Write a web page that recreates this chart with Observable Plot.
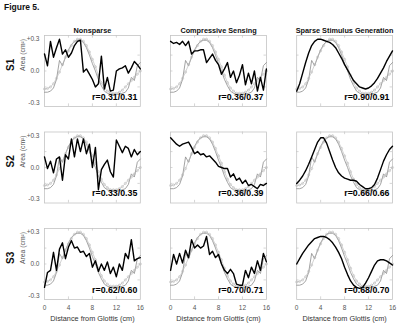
<!DOCTYPE html>
<html><head><meta charset="utf-8">
<script src="https://cdn.jsdelivr.net/npm/d3@7"></script>
<script src="https://cdn.jsdelivr.net/npm/@observablehq/plot@0.6"></script>
<style>
body{margin:0;background:#fff;}
#wrap{position:relative;width:400px;height:328px;font-family:"Liberation Sans",Arial,sans-serif;}
#fig{position:absolute;left:4px;top:2px;font-weight:bold;font-size:8.5px;color:#111;z-index:2;}
</style></head><body>
<div id="wrap"><div id="fig">Figure 5.</div></div>
<script>
const methods = ["Nonsparse", "Compressive Sensing", "Sparse Stimulus Generation"];
const subjects = ["S1", "S2", "S3"];
const xTicks = [0, 4, 8, 12, 16];
const yTicks = [-0.3, 0, 0.3];
const distance = [0,0.5,1,1.5,2,2.5,3,3.5,4,4.5,5,5.5,6,6.5,7,7.5,8,8.5,9,9.5,10,10.5,11,11.5,12,12.5,13,13.5,14,14.5,15,15.5,16];

// ground-truth area functions (gray)
const truthA = [-0.17,-0.165,-0.15,-0.12,-0.07,-0.01,0.06,0.13,0.19,0.24,0.28,0.30,0.30,0.28,0.24,0.18,0.11,0.04,-0.04,-0.11,-0.16,-0.19,-0.21,-0.21,-0.21,-0.20,-0.18,-0.15,-0.12,-0.09,-0.06,-0.03,0.0];
const truthB = [-0.2,-0.2,-0.19,-0.16,-0.08,0.1,0.05,0.13,0.2,0.25,0.28,0.29,0.29,0.27,0.22,0.15,0.07,0.0,-0.08,-0.14,-0.19,-0.21,-0.22,-0.22,-0.22,-0.22,-0.21,-0.2,-0.16,-0.06,-0.09,0.05,0.08];

// reconstructions (black)
const s1Nonsparse = [0.16,0.05,0.28,0.13,0.22,0.30,0.16,0.20,0.13,0.17,0.24,0.28,0.29,-0.01,0.02,-0.03,-0.08,-0.15,-0.12,0.14,-0.17,-0.06,-0.19,-0.18,0.0,0.02,0.03,0.05,-0.02,0.03,0.09,0.06,0.02];
const s1Compressive = [0.28,0.26,0.27,0.25,0.28,0.24,0.28,0.16,0.19,0.19,0.20,0.20,0.08,0.12,0.16,0.10,0.06,-0.03,0.02,0.08,-0.06,0.0,-0.11,-0.04,0.06,-0.13,-0.02,-0.12,0.0,-0.19,-0.06,-0.18,0.02];
const s1Sparse = [-0.19,-0.12,-0.02,0.08,0.17,0.24,0.28,0.30,0.30,0.29,0.28,0.27,0.25,0.22,0.17,0.12,0.06,0.01,-0.04,-0.09,-0.12,-0.15,-0.16,-0.17,-0.16,-0.14,-0.11,-0.07,-0.02,0.03,0.09,0.14,0.19];
const s2Nonsparse = [0.10,-0.01,0.06,-0.05,0.08,0.10,-0.12,0.12,0.08,0.27,0.10,0.27,0.15,0.27,0.13,0.22,0.00,0.19,-0.21,-0.02,0.03,0.07,-0.04,-0.09,0.26,0.20,0.14,0.20,0.18,0.10,0.17,0.12,0.15];
const s2Compressive = [0.28,0.25,0.22,0.20,0.22,0.23,0.24,0.19,0.13,0.15,0.12,0.13,0.10,0.11,0.08,0.05,0.01,0.0,-0.01,-0.01,-0.09,-0.06,-0.12,-0.10,-0.15,-0.12,-0.17,-0.16,-0.18,-0.20,-0.16,-0.17,-0.15];
const s2Sparse = [-0.15,-0.12,-0.08,-0.03,0.03,0.10,0.17,0.24,0.28,0.28,0.23,0.15,0.07,0.0,-0.05,-0.08,-0.10,-0.11,-0.12,-0.12,-0.13,-0.16,-0.18,-0.20,-0.20,-0.19,-0.16,-0.10,-0.02,0.06,0.12,0.17,0.20];
const s3Nonsparse = [-0.22,-0.08,-0.06,0.11,-0.06,0.14,0.20,0.05,0.16,0.22,0.15,0.16,0.11,0.12,0.07,0.10,-0.03,0.03,-0.07,0.0,-0.06,0.02,-0.09,-0.03,-0.12,0.0,-0.06,0.10,0.05,0.23,0.03,0.05,0.06];
const s3Compressive = [-0.06,0.09,0.0,0.10,0.01,0.13,0.06,0.23,0.15,0.18,0.15,0.17,0.26,0.09,0.12,0.06,0.09,0.0,-0.06,-0.09,-0.05,-0.09,-0.19,-0.20,-0.20,-0.06,-0.13,-0.03,-0.09,0.03,-0.06,0.10,0.02];
const s3Sparse = [0.0,0.05,0.10,0.14,0.18,0.21,0.24,0.25,0.26,0.26,0.25,0.23,0.20,0.16,0.11,0.05,-0.03,-0.10,-0.16,-0.20,-0.22,-0.23,-0.22,-0.18,-0.13,-0.07,-0.01,0.03,0.04,0.04,0.03,0.01,-0.01];

const rS1 = ["r=0.31/0.31", "r=0.36/0.37", "r=0.90/0.91"];
const rS2 = ["r=0.33/0.35", "r=0.36/0.39", "r=0.66/0.66"];
const rS3 = ["r=0.62/0.60", "r=0.70/0.71", "r=0.68/0.70"];

const recon = {S1: [s1Nonsparse, s1Compressive, s1Sparse], S2: [s2Nonsparse, s2Compressive, s2Sparse], S3: [s3Nonsparse, s3Compressive, s3Sparse]};
const rLab = {S1: rS1, S2: rS2, S3: rS3};

const black = [], grayA = [], grayB = [], labels = [];
for (const s of subjects) {
  methods.forEach((m, j) => {
    distance.forEach((x, i) => {
      black.push({s, m, x, y: recon[s][j][i]});
      grayA.push({s, m, x, y: truthA[i]});
      grayB.push({s, m, x, y: truthB[i]});
    });
    labels.push({s, m, r: rLab[s][j]});
  });
}

const fmt = d => d === 0 ? "0.0" : (d > 0 ? "+" : "-") + Math.abs(d).toFixed(1);
const FONT = "Liberation Sans, Arial, sans-serif";

const chart = Plot.plot({
  width: 400, height: 328,
  marginLeft: 44, marginRight: 8, marginTop: 35, marginBottom: 29,
  style: {fontFamily: FONT, fontSize: "6.5px", color: "#555", background: "transparent", overflow: "visible"},
  fx: {domain: methods, paddingInner: 0.24, paddingOuter: 0, axis: null, round: false},
  fy: {domain: subjects, paddingInner: 0.264, paddingOuter: 0, axis: null, round: false},
  x: {domain: [0, 16], ticks: xTicks, tickSize: 0, tickPadding: 6, label: null},
  y: {domain: [-0.335, 0.335], ticks: yTicks, tickSize: 0, tickPadding: 5, label: null, tickFormat: fmt},
  marks: [
    Plot.frame({stroke: "#c4c4c4", strokeWidth: 0.8}),
    Plot.ruleY([-0.15, 0, 0.15], {y: d => d, x1: 0, x2: 0.4, stroke: "#c4c4c4", strokeWidth: 0.7}),
    Plot.ruleY([-0.15, 0, 0.15], {y: d => d, x1: 15.6, x2: 16, stroke: "#c4c4c4", strokeWidth: 0.7}),
    Plot.ruleX([4, 8, 12], {x: d => d, y1: 0.335, y2: 0.31, stroke: "#c4c4c4", strokeWidth: 0.7}),
    Plot.ruleX([4, 8, 12], {x: d => d, y1: -0.335, y2: -0.31, stroke: "#c4c4c4", strokeWidth: 0.7}),
    Plot.line(grayB, {x: "x", y: "y", fx: "m", fy: "s", stroke: "#8c8c8c", strokeWidth: 0.8}),
    Plot.line(grayA, {x: "x", y: "y", fx: "m", fy: "s", stroke: "#b4b4b4", strokeWidth: 0.6}),
    Plot.dot(grayA, {x: "x", y: "y", fx: "m", fy: "s", r: 1.1, stroke: "#b0b0b0", fill: "none", strokeWidth: 0.5}),
    Plot.line(black, {x: "x", y: "y", fx: "m", fy: "s", stroke: "#000", strokeWidth: 1.4}),
    Plot.text(labels, {fx: "m", fy: "s", text: "r", frameAnchor: "bottom-right", textAnchor: "end", dx: -3, dy: -7, fontSize: 8.8, fontWeight: "bold", fill: "#000", fontFamily: FONT}),
    Plot.text(labels.filter(d => d.s === "S1"), {fx: "m", fy: "s", text: "m", frameAnchor: "top", dy: -8, fontSize: 7.3, fontWeight: "bold", fill: "#111", fontFamily: FONT}),
    Plot.text(labels.filter(d => d.m === methods[0]), {fx: "m", fy: "s", text: "s", frameAnchor: "left", dx: -34, rotate: -90, fontSize: 10, fontWeight: "bold", fill: "#111", fontFamily: FONT}),
    Plot.text(labels.filter(d => d.m === methods[0]), {fx: "m", fy: "s", text: () => "Area (cm²)", frameAnchor: "left", dx: -22, rotate: -90, fontSize: 6.8, fill: "#555", fontFamily: FONT}),
    Plot.text(labels.filter(d => d.s === "S3"), {fx: "m", fy: "s", text: () => "Distance from Glottis (cm)", frameAnchor: "bottom", dy: 21, fontSize: 7.3, fill: "#333", fontFamily: FONT})
  ]
});
document.getElementById("wrap").appendChild(chart);
</script>
</body></html>
